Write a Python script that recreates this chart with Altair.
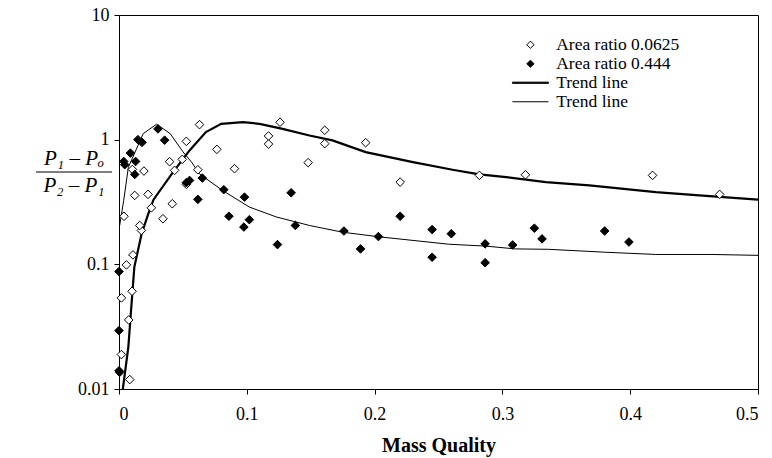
import altair as alt
import pandas as pd

# ---------------- data ----------------
open_x = [0.0019, 0.0102, 0.0076, 0.0019, 0.0084, 0.0058, 0.0109, 0.0175, 0.0162, 0.0039,
          0.0123, 0.0227, 0.0253, 0.0344, 0.0417, 0.0527, 0.0617, 0.0435, 0.0396, 0.0495,
          0.0527, 0.0195, 0.0105, 0.063, 0.0766, 0.0904, 0.117, 0.117, 0.126, 0.148,
          0.161, 0.161, 0.193, 0.220, 0.282, 0.318, 0.4175, 0.470]
open_y = [0.0538, 0.0608, 0.0358, 0.0189, 0.0119, 0.099, 0.119, 0.187, 0.205, 0.243,
          0.357, 0.364, 0.284, 0.232, 0.306, 0.438, 0.574, 0.567, 0.666, 0.695,
          0.969, 0.560, 0.577, 1.32, 0.836, 0.585, 1.07, 0.922, 1.38, 0.654,
          1.19, 0.929, 0.946, 0.457, 0.517, 0.523, 0.517, 0.364]

filled_x = [0.0, 0.0, 0.0005, 0.0, 0.0037, 0.0045, 0.0089, 0.013, 0.0123, 0.0148,
            0.018, 0.0305, 0.0357, 0.0552, 0.0527, 0.0617, 0.0652, 0.082, 0.0982, 0.086,
            0.102, 0.0977, 0.1347, 0.138, 0.124, 0.176, 0.189, 0.203, 0.220, 0.245,
            0.245, 0.260, 0.2865, 0.2865, 0.308, 0.325, 0.331, 0.380, 0.399]
filled_y = [0.0294, 0.0140, 0.0136, 0.0875, 0.669, 0.63, 0.78, 0.669, 0.526, 1.0,
            0.951, 1.22, 0.99, 0.471, 0.452, 0.332, 0.492, 0.397, 0.346, 0.243,
            0.228, 0.199, 0.375, 0.205, 0.144, 0.185, 0.133, 0.167, 0.243, 0.19,
            0.114, 0.176, 0.146, 0.103, 0.143, 0.195, 0.160, 0.185, 0.151]

trend_a_x = [0.003, 0.0073, 0.010, 0.012, 0.0177, 0.0227, 0.027, 0.0423, 0.0552, 0.068,
             0.080, 0.097, 0.110, 0.128, 0.149, 0.167, 0.193, 0.230, 0.261, 0.282,
             0.303, 0.334, 0.368, 0.420, 0.454, 0.5]
trend_a_y = [0.01, 0.0217, 0.051, 0.095, 0.176, 0.25, 0.33, 0.55, 0.82, 1.15,
             1.34, 1.38, 1.34, 1.22, 1.08, 0.987, 0.795, 0.66, 0.574, 0.526,
             0.50, 0.457, 0.43, 0.38, 0.357, 0.33]

trend_b_x = [0.0, 0.0037, 0.0073, 0.019, 0.0294, 0.040, 0.050, 0.0568, 0.0631, 0.0813,
             0.102, 0.123, 0.149, 0.175, 0.204, 0.258, 0.287, 0.310, 0.336, 0.381,
             0.420, 0.464, 0.5]
trend_b_y = [0.19, 0.326, 0.60, 1.12, 1.33, 1.12, 0.80, 0.66, 0.53, 0.39,
             0.288, 0.24, 0.205, 0.181, 0.166, 0.145, 0.14, 0.133, 0.132, 0.125,
             0.12, 0.12, 0.118]

series_names = ["Area ratio 0.0625", "Area ratio 0.444", "Trend A", "Trend B"]
trend_label = "Trend line"
x_ticks = [0, 0.1, 0.2, 0.3, 0.4, 0.5]
y_ticks = [0.01, 0.1, 1, 10]
x_title = "Mass Quality"
y_num = "P\u2081 \u2013 P\u2092"
y_den = "P\u2082 \u2013 P\u2081"

# ---------------- tables ----------------
pts = pd.DataFrame({
    "x": open_x + filled_x,
    "y": open_y + filled_y,
    "series": [series_names[0]] * len(open_x) + [series_names[1]] * len(filled_x),
})
line_a = pd.DataFrame({"x": trend_a_x, "y": trend_a_y})
line_b = pd.DataFrame({"x": trend_b_x, "y": trend_b_y})

SERIF = "Liberation Serif"
DIAMOND = "M0,-0.6L0.6,0L0,0.6L-0.6,0Z"
THICK = "M-3,-0.1L3,-0.1L3,0.1L-3,0.1Z"
THIN = "M-3,0L3,0"

xscale = alt.Scale(domain=[0, 0.5], nice=False, zero=False)
yscale = alt.Scale(type="log", domain=[0.01, 10], nice=False)

xaxis = alt.Axis(values=x_ticks, format="~g", title=x_title, grid=False,
                 tickSize=5, labelPadding=11, titlePadding=12,
                 titleFont=SERIF, titleFontSize=20, titleFontWeight="bold",
                 labelFont=SERIF, labelFontSize=18)
yaxis = alt.Axis(values=y_ticks, format="~g", title="", grid=False,
                 tickSize=5, labelPadding=5,
                 labelFont=SERIF, labelFontSize=18)

legend = alt.Legend(
    title=None, orient="none", legendX=402.7, legendY=21, padding=0,
    labelExpr="indexof(datum.label, 'Trend') == 0 ? '" + trend_label + "' : datum.label",
    labelFont=SERIF, labelFontSize=17.5, labelColor="black", labelOffset=17,
    symbolSize=144, symbolStrokeColor="black", symbolStrokeWidth=1,
    symbolOpacity=1, rowPadding=0,
)

base_x = alt.X("x:Q", scale=xscale, axis=xaxis)
base_y = alt.Y("y:Q", scale=yscale, axis=yaxis)

lines_a = alt.Chart(line_a).mark_line(color="black", strokeWidth=2.2, clip=True).encode(
    x=base_x, y=base_y)
lines_b = alt.Chart(line_b).mark_line(color="black", strokeWidth=1.0, clip=True).encode(
    x=base_x, y=base_y)

points = alt.Chart(pts).mark_point(strokeWidth=1, opacity=1, size=205).encode(
    x=base_x,
    y=base_y,
    shape=alt.Shape("series:N", scale=alt.Scale(domain=series_names,
                                                range=[DIAMOND, DIAMOND, THICK, THIN]),
                    legend=legend),
    fill=alt.Fill("series:N", scale=alt.Scale(domain=series_names,
                                              range=["white", "black", "black", "transparent"]),
                  legend=legend),
    stroke=alt.Stroke("series:N", scale=alt.Scale(domain=series_names,
                                                  range=["black", "black", "black", "black"]),
                      legend=legend),
)

blank = alt.Data(values=[{}])
num = alt.Chart(blank).mark_text(font=SERIF, fontStyle="italic", fontSize=21,
                                 align="center", baseline="alphabetic", color="black").encode(
    x=alt.value(-45), y=alt.value(150), text=alt.value(y_num))
bar = alt.Chart(blank).mark_rule(color="black", strokeWidth=1).encode(
    x=alt.value(-83), x2=alt.value(-7), y=alt.value(157))
den = alt.Chart(blank).mark_text(font=SERIF, fontStyle="italic", fontSize=21,
                                 align="center", baseline="alphabetic", color="black").encode(
    x=alt.value(-45), y=alt.value(177), text=alt.value(y_den))

chart = alt.layer(lines_a, lines_b, points, num, bar, den).properties(
    width=639, height=374,
    autosize=alt.AutoSizeParams(type="none"),
    padding={"left": 111, "top": 7, "right": 6, "bottom": 68},
).configure_view(stroke="black", strokeWidth=1).configure_axis(
    domainColor="black", tickColor="black", labelColor="black", titleColor="black",
    domainWidth=1, tickWidth=1,
)

chart.save("out.html", embed_options={"renderer": "svg", "actions": False})
